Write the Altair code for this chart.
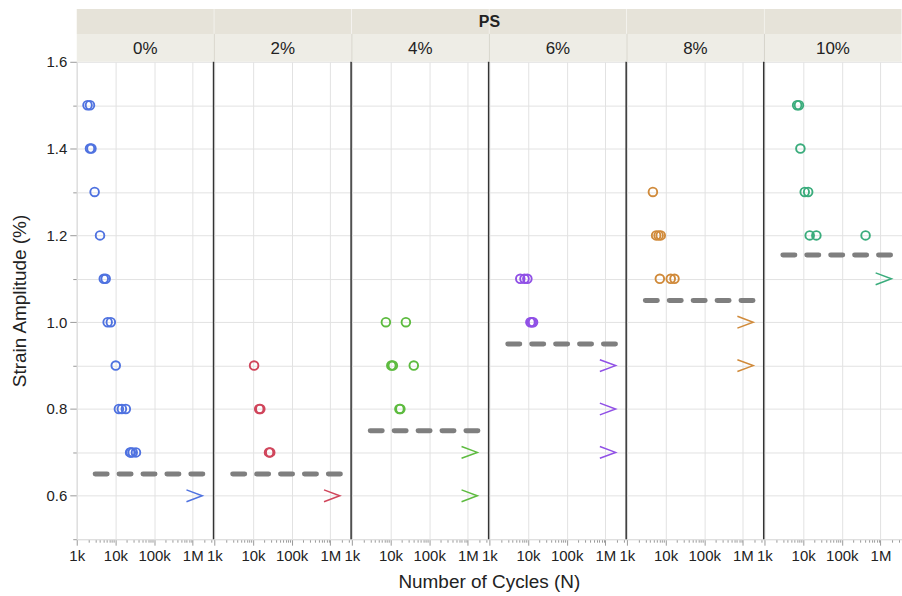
import altair as alt
import pandas as pd

# Pre-strain levels (facet columns)
ps_levels = ["0%", "2%", "4%", "6%", "8%", "10%"]
ps_colors = ["#4f72e0", "#d0455b", "#5dbb3f", "#9050e6", "#d08a3a", "#3aac7c"]

# Failed specimens: pre-strain, cycles to failure, strain amplitude (%)
fail_ps = (["0%"] * 18 + ["2%"] * 5 + ["4%"] * 7 + ["6%"] * 6 + ["8%"] * 7 + ["10%"] * 8)
fail_cycles = [
    1900, 2200, 2200, 2400, 2900, 4000, 5000, 5600, 6300, 7600, 10200,
    12300, 14700, 18600, 25000, 28000, 34000, 24000,
    10700, 14500, 15500, 26000, 28000,
    7600, 25000, 10500, 11500, 40000, 17000, 18000,
    6300, 8100, 9600, 11500, 12500, 13500,
    4700, 5700, 6600, 7500, 7100, 13600, 17000,
    7000, 7800, 8500, 11000, 13500, 14800, 22000, 412000,
]
fail_strain = [
    1.5, 1.5, 1.4, 1.4, 1.3, 1.2, 1.1, 1.1, 1.0, 1.0, 0.9,
    0.8, 0.8, 0.8, 0.7, 0.7, 0.7, 0.7,
    0.9, 0.8, 0.8, 0.7, 0.7,
    1.0, 1.0, 0.9, 0.9, 0.9, 0.8, 0.8,
    1.1, 1.1, 1.1, 1.0, 1.0, 1.0,
    1.3, 1.2, 1.2, 1.2, 1.1, 1.1, 1.1,
    1.5, 1.5, 1.4, 1.3, 1.3, 1.2, 1.2, 1.2,
]

# Run-outs (no failure): pre-strain, cycles, strain amplitude (%)
runout_ps = ["0%", "2%", "4%", "4%", "6%", "6%", "6%", "8%", "8%", "10%"]
runout_cycles = [1.1e6, 1.1e6, 1.1e6, 1.1e6, 1.15e6, 1.15e6, 1.15e6, 1.15e6, 1.15e6, 1.2e6]
runout_strain = [0.6, 0.6, 0.7, 0.6, 0.9, 0.8, 0.7, 1.0, 0.9, 1.1]

# Estimated fatigue limit for each pre-strain level
limit_ps = ps_levels
limit_strain = [0.65, 0.65, 0.75, 0.95, 1.05, 1.155]
limit_from = 3000
limit_to = 1.9e6

# Axis ticks
x_tick_values = [m * 10 ** e for e in range(3, 6) for m in range(1, 10)] + [1e6, 2e6, 3e6]
y_tick_values = [round(0.5 + 0.1 * i, 1) for i in range(12)]

rows = []
for p, c, s in zip(fail_ps, fail_cycles, fail_strain):
    rows.append({"PS": p, "kind": "fail", "N": c, "N2": None, "strain": s})
for p, c, s in zip(runout_ps, runout_cycles, runout_strain):
    rows.append({"PS": p, "kind": "runout", "N": c, "N2": None, "strain": s})
for p, s in zip(limit_ps, limit_strain):
    rows.append({"PS": p, "kind": "limit", "N": limit_from, "N2": limit_to, "strain": s})
df = pd.DataFrame(rows)

W = 137.5
H = 479
FONT = "Liberation Sans"

x_scale = alt.Scale(type="log", domain=[1000, 3.5e6], nice=False)
y_scale = alt.Scale(domain=[0.5, 1.6], nice=False, zero=False)
color_scale = alt.Scale(domain=ps_levels, range=ps_colors)

is_decade = "abs(log(datum.value)/LN10 - round(log(datum.value)/LN10)) < 0.001"

x_axis = alt.Axis(
    values=x_tick_values,
    labelExpr=(
        "datum.value == 1000 ? '1k' : datum.value == 10000 ? '10k' : "
        "datum.value == 100000 ? '100k' : datum.value == 1000000 ? '1M' : ''"
    ),
    tickSize={"condition": {"test": is_decade, "value": 6}, "value": 3},
    gridOpacity={"condition": {"test": is_decade, "value": 1}, "value": 0},
    title=None,
    labelFlush=False,
    labelOverlap=False,
)
y_axis = alt.Axis(
    values=y_tick_values,
    labelExpr="round(datum.value*10) % 2 == 0 && datum.value > 0.55 ? format(datum.value, '.1f') : ''",
    tickSize={"condition": {"test": "round(datum.value*10) % 2 == 0", "value": 7}, "value": 4},
    title="Strain Amplitude (%)",
    titlePadding=17,
)

base = alt.Chart()

band_top = base.mark_rect(color="#e6e3d9").encode(
    x=alt.value(0), x2=alt.value(W), y=alt.value(-53), y2=alt.value(-28)
).transform_filter("datum.kind == 'limit'")

band_label = base.mark_rect(color="#eeede6").encode(
    x=alt.value(0), x2=alt.value(W), y=alt.value(-28), y2=alt.value(0)
).transform_filter("datum.kind == 'limit'")

band_sep = base.mark_rule(color="#d6d4ca", strokeWidth=1).encode(
    x=alt.value(0), y=alt.value(-28), y2=alt.value(0)
).transform_filter("datum.kind == 'limit' && datum.PS != '0%'")

label_text = base.mark_text(font=FONT, fontSize=17, color="#222222", baseline="middle").encode(
    text="PS:N", x=alt.value(W / 2), y=alt.value(-13)
).transform_filter("datum.kind == 'limit'")

ps_text = base.mark_text(font=FONT, fontSize=16, fontWeight="bold", color="#222222",
                         baseline="middle").encode(
    text=alt.value("PS"), x=alt.value(0), y=alt.value(-40)
).transform_filter("datum.kind == 'limit' && datum.PS == '6%'")

limit_line = base.mark_rule(color="#7f7f7f", strokeWidth=5, strokeDash=[12, 12],
                            strokeCap="round").encode(
    x=alt.X("N:Q", scale=x_scale, axis=x_axis),
    x2="N2:Q",
    y=alt.Y("strain:Q", scale=y_scale, axis=y_axis),
).transform_filter("datum.kind == 'limit'")

circles = base.mark_point(shape="circle", filled=False, size=75, strokeWidth=1.9, opacity=1).encode(
    x=alt.X("N:Q", scale=x_scale, axis=x_axis),
    y=alt.Y("strain:Q", scale=y_scale, axis=y_axis),
    color=alt.Color("PS:N", scale=color_scale, legend=None),
).transform_filter("datum.kind == 'fail'")

arrows = base.mark_point(shape="M-1,-0.75L1,0L-1,0.75", filled=False, size=250,
                         strokeWidth=1.5, opacity=1).encode(
    x=alt.X("N:Q", scale=x_scale, axis=x_axis),
    y=alt.Y("strain:Q", scale=y_scale, axis=y_axis),
    color=alt.Color("PS:N", scale=color_scale, legend=None),
).transform_filter("datum.kind == 'runout'")

divider = base.mark_rule(color="#333333", strokeWidth=2).encode(
    x=alt.value(W), y=alt.value(0), y2=alt.value(H)
).transform_filter("datum.kind == 'limit' && datum.PS != '10%'")

panel = alt.layer(
    band_top, band_label, band_sep, label_text, ps_text,
    limit_line, circles, arrows, divider,
).properties(width=W, height=H)

chart = panel.facet(
    column=alt.Column(
        "PS:N",
        sort=ps_levels,
        header=alt.Header(
            labels=False,
            title="Number of Cycles (N)",
            titleOrient="bottom",
            titleFont=FONT,
            titleFontSize=19,
            titleFontWeight="normal",
            titleColor="#222222",
            titlePadding=0,
        ),
    ),
    data=df,
    spacing=0,
    bounds="flush",
).properties(
    padding={"left": 10, "top": 8, "right": 0, "bottom": 2},
).configure_view(
    stroke=None
).configure_axis(
    labelFont=FONT,
    labelFontSize=15,
    labelColor="#222222",
    titleFont=FONT,
    titleFontSize=19,
    titleFontWeight="normal",
    titleColor="#222222",
    domainColor="#c8c8c8",
    tickColor="#9a9a9a",
    gridColor="#e2e2e2",
    labelPadding=3,
)

chart.save("out.html", embed_options={"renderer": "svg", "actions": False})
